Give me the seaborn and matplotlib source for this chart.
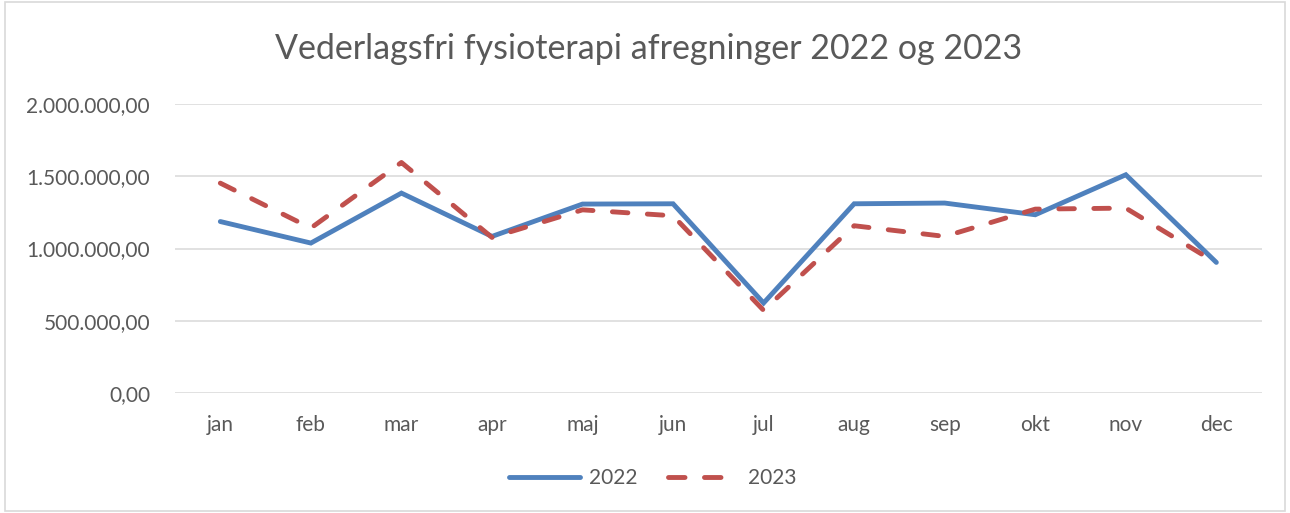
import matplotlib
matplotlib.use("Agg")
import matplotlib.pyplot as plt
import matplotlib.ticker as mticker
import pandas as pd
import seaborn as sns

months = ["jan", "feb", "mar", "apr", "maj", "jun", "jul", "aug", "sep", "okt", "nov", "dec"]
values_2022 = [1187000, 1038000, 1384000, 1084000, 1308000, 1310000,
               623000, 1310000, 1315000, 1234000, 1511000, 904000]
values_2023 = [1453000, 1142000, 1596000, 1077000, 1268000, 1227000,
               572000, 1158000, 1084000, 1273000, 1280000, 900000]

df = pd.DataFrame({
    "month": months * 2,
    "pos": list(range(12)) * 2,
    "value": values_2022 + values_2023,
    "year": ["2022"] * 12 + ["2023"] * 12,
})

sns.set_theme(style="white")
plt.rcParams["font.family"] = ["Lato", "DejaVu Sans"]
grey = "#595959"
LW = 3.5
DASH = (3.2, 4.0)

fig = plt.figure(figsize=(12.9, 5.13), dpi=100)
ax = fig.add_axes([0.1357, 0.234, 0.978 - 0.1357, 0.797 - 0.234])

sns.lineplot(data=df, x="pos", y="value", hue="year", style="year",
             palette={"2022": "#4f81bd", "2023": "#c0504d"},
             dashes={"2022": "", "2023": DASH},
             linewidth=LW, ax=ax, legend=False)
for ln in ax.lines:
    ln.set_solid_capstyle("round")
    ln.set_dash_capstyle("round")
    ln.set_solid_joinstyle("miter")

ax.set_xlim(-0.5, 11.5)
ax.set_ylim(0, 2000000)
ax.set_xticks(range(12))
ax.set_xticklabels(months)
ax.yaxis.set_major_locator(mticker.MultipleLocator(500000))

def da_fmt(v, _):
    s = f"{v:,.2f}"
    return s.replace(",", "X").replace(".", ",").replace("X", ".")

ax.yaxis.set_major_formatter(mticker.FuncFormatter(da_fmt))
ax.tick_params(axis="both", length=0, labelsize=15, colors=grey)
ax.tick_params(axis="x", pad=16)
ax.tick_params(axis="y", pad=18)
ax.set_xlabel("")
ax.set_ylabel("")
ax.grid(axis="y", color="#d9d9d9", linewidth=1.1)
ax.set_axisbelow(True)
for s in ax.spines.values():
    s.set_visible(False)

fig.suptitle("Vederlagsfri fysioterapi afregninger 2022 og 2023",
             x=0.503, y=0.905, fontsize=24.5, color=grey, va="center")

handles = [plt.Line2D([], [], color="#4f81bd", lw=LW, solid_capstyle="round"),
           plt.Line2D([], [], color="#c0504d", lw=LW, dashes=(3.4, 4.0),
                      dash_capstyle="round")]
fig.legend(handles, ["2022", "2023"], loc="center", bbox_to_anchor=(0.506, 0.068),
           ncol=2, frameon=False, fontsize=15, labelcolor=grey,
           handlelength=3.4, handletextpad=0.4, columnspacing=1.5)

fig.patches.append(plt.Rectangle((0.004, 0.004), 0.992, 0.992, transform=fig.transFigure,
                                 fill=False, edgecolor="#d9d9d9", linewidth=1.2))

fig.savefig("out.png", dpi=100)
